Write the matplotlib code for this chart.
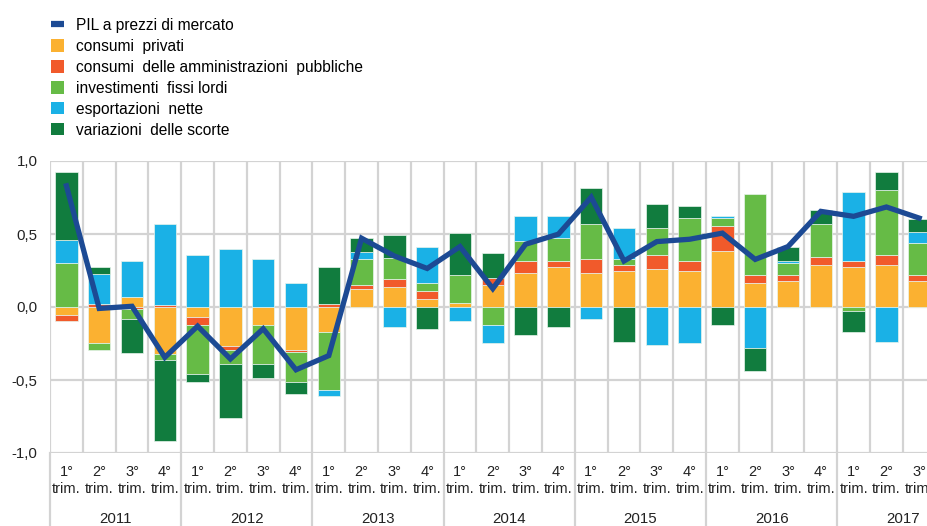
import matplotlib
matplotlib.use("Agg")
import matplotlib.pyplot as plt
from matplotlib.patches import Patch
from matplotlib.lines import Line2D

plt.rcParams['font.family'] = ['Liberation Sans', 'DejaVu Sans']

years = ['2011', '2012', '2013', '2014', '2015', '2016', '2017']
quarters = ['1°\ntrim.', '2°\ntrim.', '3°\ntrim.', '4°\ntrim.']
n_quarters = 27  # 2011 Q1 - 2017 Q3

consumi_privati = [-0.057, -0.248, 0.069, -0.322, -0.069, -0.264, -0.126, -0.292,
                   -0.168, 0.124, 0.138, 0.055, 0.025, 0.152, 0.234, 0.276,
                   0.234, 0.248, 0.262, 0.248, 0.386, 0.166, 0.179, 0.287,
                   0.276, 0.287, 0.179]
consumi_pa = [-0.040, 0.023, -0.012, 0.012, -0.057, -0.028, 0.0, -0.014,
              0.023, 0.025, 0.055, 0.055, 0.0, 0.044, 0.083, 0.041,
              0.097, 0.039, 0.094, 0.069, 0.166, 0.051, 0.039, 0.053,
              0.039, 0.071, 0.037]
investimenti = [0.300, -0.044, -0.070, -0.041, -0.333, -0.099, -0.264, -0.207,
                -0.402, 0.179, 0.140, 0.055, 0.195, -0.126, 0.138, 0.154,
                0.237, 0.044, 0.184, 0.292, 0.055, 0.559, 0.085, 0.228,
                -0.028, 0.446, 0.225]
esportazioni = [0.156, 0.200, 0.248, 0.554, 0.356, 0.398, 0.329, 0.161,
                -0.039, 0.046, -0.138, 0.248, -0.097, -0.122, 0.166, 0.149,
                -0.083, 0.207, -0.262, -0.248, 0.014, -0.278, 0.014, 0.0,
                0.471, -0.237, 0.071]
scorte = [0.467, 0.053, -0.235, -0.552, -0.053, -0.372, -0.097, -0.080,
          0.253, 0.097, 0.163, -0.152, 0.290, 0.177, -0.191, -0.138,
          0.248, -0.237, 0.166, 0.080, -0.122, -0.163, 0.097, 0.094,
          -0.140, 0.120, 0.094]
pil = [0.83, -0.01, 0.005, -0.345, -0.131, -0.356, -0.149, -0.43,
       -0.333, 0.471, 0.349, 0.264, 0.414, 0.126, 0.43, 0.499,
       0.752, 0.315, 0.448, 0.464, 0.506, 0.326, 0.414, 0.655,
       0.621, 0.685, 0.609]

series = [
    ('consumi  privati', consumi_privati, '#fbb131'),
    ('consumi  delle amministrazioni  pubbliche', consumi_pa, '#f15a2b'),
    ('investimenti  fissi lordi', investimenti, '#66bb46'),
    ('esportazioni  nette', esportazioni, '#1ab1e6'),
    ('variazioni  delle scorte', scorte, '#117c3e'),
]
pil_color = '#1c4a94'
grid_color = '#d3d3d3'

fig = plt.figure(figsize=(9.28, 5.26), dpi=100)
ax = fig.add_axes([50 / 928, 1 - 453 / 526, 885.6 / 928, 292 / 526])

x = list(range(n_quarters))
pos_base = [0.0] * n_quarters
neg_base = [0.0] * n_quarters
for label, vals, col in series:
    bottoms = []
    for i, v in enumerate(vals):
        if v >= 0:
            bottoms.append(pos_base[i])
            pos_base[i] += v
        else:
            bottoms.append(neg_base[i])
            neg_base[i] += v
    ax.bar(x, vals, bottom=bottoms, width=0.68, color=col,
           edgecolor='#e8f4ec', linewidth=0.5, zorder=3)

ax.plot(x, pil, color=pil_color, linewidth=3.8, zorder=4,
        solid_joinstyle='miter')

ax.set_xlim(-0.5, n_quarters - 0.5)
ax.set_ylim(-1.0, 1.0)
for s in ax.spines.values():
    s.set_visible(False)

# griglia
for yv in [-1.0, -0.5, 0.0, 0.5, 1.0]:
    ax.axhline(yv, color=grid_color, linewidth=1.6, zorder=1)
for k in range(n_quarters + 1):
    ax.axvline(k - 0.5, color=grid_color, linewidth=1.6, zorder=1)
# separatori degli anni sotto l'asse
for k in range(0, n_quarters + 1, 4):
    ax.plot([k - 0.5, k - 0.5], [0, -0.27], color=grid_color, linewidth=1.6,
            transform=ax.get_xaxis_transform(), clip_on=False, zorder=1)

ax.set_yticks([-1.0, -0.5, 0.0, 0.5, 1.0])
ax.set_yticklabels(['-1,0', '-0,5', '0,0', '0,5', '1,0'])
ax.tick_params(axis='y', length=0, pad=9, labelsize=10.8, colors='#222222')
ax.set_xticks(x)
ax.set_xticklabels([quarters[i % 4] for i in x], linespacing=1.25)
ax.tick_params(axis='x', length=0, pad=9, labelsize=10.5, colors='#222222')

for j, yr in enumerate(years):
    ax.text(j * 4 + 1.5, -0.225, yr, transform=ax.get_xaxis_transform(),
            ha='center', va='center', fontsize=10.8, color='#222222')

handles = [Line2D([0], [0], color=pil_color, linewidth=4.5, solid_capstyle='butt')]
labels = ['PIL a prezzi di mercato']
for label, vals, col in series:
    handles.append(Patch(facecolor=col, edgecolor='none'))
    labels.append(label)
fig.legend(handles, labels, loc='upper left', bbox_to_anchor=(51 / 928, 1 - 18 / 526),
           frameon=False, fontsize=11.2, handlelength=0.85, handleheight=0.85,
           handletextpad=0.75, labelspacing=0.38, borderpad=0, borderaxespad=0)

fig.savefig('out.png', dpi=100)
